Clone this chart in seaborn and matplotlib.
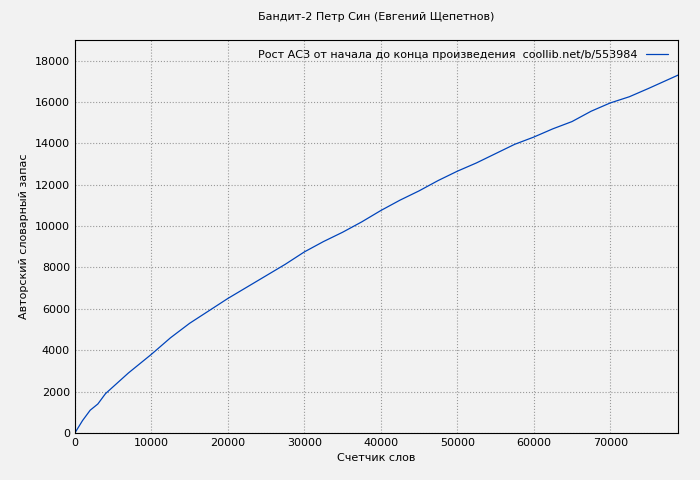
import matplotlib
matplotlib.use("Agg")
import matplotlib.pyplot as plt
import seaborn as sns
import pandas as pd

words = [0, 1000, 2000, 3000, 4000, 5500, 7000, 8500, 10000, 12500, 15000, 17500, 20000,
         22500, 25000, 27500, 30000, 32500, 35000, 37500, 40000, 42500, 45000, 47500,
         50000, 52500, 55000, 57500, 60000, 62500, 65000, 67500, 70000, 72500, 75000, 78900]
vocab = [0, 600, 1100, 1400, 1900, 2400, 2900, 3350, 3800, 4600, 5300, 5900, 6500,
         7050, 7600, 8150, 8750, 9250, 9700, 10200, 10750, 11250, 11700, 12200,
         12650, 13050, 13500, 13950, 14300, 14700, 15050, 15550, 15950, 16250, 16650, 17300]
df = pd.DataFrame({"x": words, "y": vocab})

sns.set_style("whitegrid")
plt.rcParams['font.family'] = ['DejaVu Sans']
fig, ax = plt.subplots(figsize=(7, 4.8), dpi=100)
fig.patch.set_facecolor("#f2f2f2")
ax.set_facecolor("#f2f2f2")
sns.lineplot(data=df, x="x", y="y", ax=ax, color="#0044bb", linewidth=0.9,
             label="Рост АСЗ от начала до конца произведения  coollib.net/b/553984")
ax.set_xlim(0, 78900)
ax.set_ylim(0, 19000)
ax.set_xticks(range(0, 78000, 10000))
ax.set_yticks(range(0, 19000, 2000))
ax.grid(True, color="#999999", linestyle=":", linewidth=0.8)
for s in ax.spines.values():
    s.set_color("black"); s.set_linewidth(0.8)
ax.tick_params(labelsize=8, length=3, direction="in", colors="black")
ax.set_xlabel("Счетчик слов", fontsize=8, color="black")
ax.set_ylabel("Авторский словарный запас", fontsize=8, color="black")
ax.set_title("Бандит-2 Петр Син (Евгений Щепетнов)", fontsize=8, pad=14, color="black")
leg = ax.legend(loc="upper right", frameon=False, fontsize=8, markerfirst=False)
for t in leg.get_texts():
    t.set_color("black")
fig.subplots_adjust(left=0.107, right=0.969, top=0.917, bottom=0.098)
fig.savefig("out.png", facecolor=fig.get_facecolor())
